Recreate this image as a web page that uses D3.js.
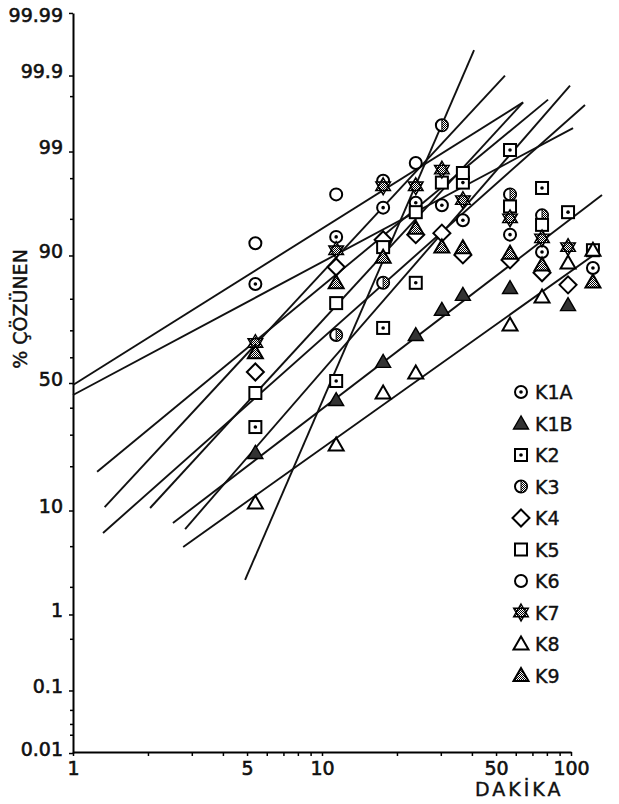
<!DOCTYPE html>
<html>
<head>
<meta charset="utf-8">
<script src="https://cdn.jsdelivr.net/npm/d3@7"></script>
<style>
  body { margin: 0; background: #fff; }
  text { font-family: "DejaVu Sans", sans-serif; fill: #111; }
</style>
</head>
<body>
<script>
// minutes at which the samples were read (one column each)
var dakika = [5.4, 11.4, 17.6, 23.8, 30.3, 36.8, 56.9, 76.5, 97.3, 122.5];

// % dissolved per product, null = no point drawn
var K1A = [84.0, 92.9, 96.1, 96.5, 96.3, 94.9, 93.2, 90.6, null, 87.6];
var K1B = [24.1, 43.2, 58.4, 68.5, 76.9, 81.2, 83.0, null, 78.3, null];
var K2  = [32.9, 50.8, 71.0, 84.3, null, 97.8, 99.04, 97.5, 95.7, 90.9];
var K3  = [null, 68.5, 84.3, null, 99.52, null, 97.1, 95.4, null, null];
var K4  = [54.4, 87.8, 92.5, 93.2, 93.4, 90.1, 89.2, 86.6, 83.8, null];
var K5  = [46.0, 78.9, 91.4, 95.7, 97.8, 98.26, 96.2, 94.4, null, null];
var K6  = [92.0, 97.1, 97.9, 98.65, null, null, null, null, null, null];
var K7  = [65.6, 90.9, 97.6, 97.6, 98.4, 96.7, 95.1, 92.7, 91.4, null];
var K8  = [11.4, 26.7, 46.0, 54.0, null, null, 72.0, 80.6, 88.6, 90.9];
var K9  = [61.9, 84.3, 89.7, 94.0, 91.4, 91.3, 90.4, 88.2, null, 84.5];

// fitted straight lines, [minute, %] at both ends
var fitK1A = [[1.0, 45.2], [101.9, 99.48]];
var fitK1B = [[2.52, 7.97], [133.2, 97.06]];
var fitK2  = [[2.82, 7.11], [99.1, 99.86]];
var fitK3  = [[4.91, 2.39], [40.8, 99.959]];
var fitK4  = [[1.34, 10.6], [54.3, 99.90]];
var fitK5  = [[2.04, 10.45], [64.2, 99.76]];
var fitK6  = [[1.0, 49.2], [64.2, 99.76]];
var fitK7  = [[1.25, 18.6], [80.9, 99.78]];
var fitK8  = [[2.77, 4.97], [128.3, 90.6]];
var fitK9  = [[1.32, 6.58], [113.8, 99.74]];

var seriesNames = ["K1A", "K1B", "K2", "K3", "K4", "K5", "K6", "K7", "K8", "K9"];
var seriesValues = [K1A, K1B, K2, K3, K4, K5, K6, K7, K8, K9];
var seriesFits = [fitK1A, fitK1B, fitK2, fitK3, fitK4, fitK5, fitK6, fitK7, fitK8, fitK9];

var yTickLabels = ["0.01", "0.1", "1", "10", "50", "90", "99", "99.9", "99.99"];
var yMinorTicks = [0.02, 0.03, 0.05, 0.5, 2, 5, 20, 30, 40, 60, 70, 80, 95, 98, 99.8];
var xTickValues = [1, 2, 3, 4, 5, 6, 7, 8, 9, 10, 20, 30, 40, 50, 60, 70, 80, 90, 100];
var xTickLabels = [1, 5, 10, 50, 100];

// inverse normal cdf (Acklam)
function probit (p) {
  var a = [-3.969683028665376e+01, 2.209460984245205e+02, -2.759285104469687e+02, 1.383577518672690e+02, -3.066479806614716e+01, 2.506628277459239e+00];
  var b = [-5.447609879822406e+01, 1.615858368580409e+02, -1.556989798598866e+02, 6.680131188771972e+01, -1.328068155288572e+01];
  var c = [-7.784894002430293e-03, -3.223964580411365e-01, -2.400758277161838e+00, -2.549671875485481e+00, 4.374664141464968e+00, 2.938163982698783e+00];
  var d = [7.784695709041462e-03, 3.224671290700398e-01, 2.445134137142996e+00, 3.754408661907416e+00];
  var q, r;
  if (p < 0.02425) {
    q = Math.sqrt(-2 * Math.log(p));
    return (((((c[0]*q + c[1])*q + c[2])*q + c[3])*q + c[4])*q + c[5]) / ((((d[0]*q + d[1])*q + d[2])*q + d[3])*q + 1);
  }
  if (p <= 1 - 0.02425) {
    q = p - 0.5; r = q * q;
    return (((((a[0]*r + a[1])*r + a[2])*r + a[3])*r + a[4])*r + a[5])*q / (((((b[0]*r + b[1])*r + b[2])*r + b[3])*r + b[4])*r + 1);
  }
  q = Math.sqrt(-2 * Math.log(1 - p));
  return -(((((c[0]*q + c[1])*q + c[2])*q + c[3])*q + c[4])*q + c[5]) / ((((d[0]*q + d[1])*q + d[2])*q + d[3])*q + 1);
}

var width = 619, height = 804;
var axisX = 73, axisY = 752;
var zMax = probit(0.9999);
var midY = 383, perZ = 99.5;

var x = d3.scaleLog().domain([1, 100]).range([axisX, 571]);
var yZ = d3.scaleLinear().domain([-zMax, zMax]).range([midY + perZ * zMax, midY - perZ * zMax]);
function y (p) { return yZ(probit(p / 100)); }

var svg = d3.select("body").append("svg")
  .attr("width", width)
  .attr("height", height);

var defs = svg.append("defs");
var dots = defs.append("pattern")
  .attr("id", "dots")
  .attr("width", 2).attr("height", 2)
  .attr("patternUnits", "userSpaceOnUse");
dots.append("rect").attr("width", 2).attr("height", 2).attr("fill", "#fff");
dots.append("rect").attr("width", 1).attr("height", 1).attr("fill", "#000");
dots.append("rect").attr("x", 1).attr("y", 1).attr("width", 1).attr("height", 1).attr("fill", "#000");

// y axis (probability scale)
var yAxis = svg.append("g")
  .attr("transform", "translate(" + axisX + ",0)")
  .call(d3.axisLeft(yZ)
    .tickValues(yTickLabels.map(function (s) { return probit(+s / 100); }))
    .tickFormat(function (d, i) { return yTickLabels[i]; })
    .tickSize(4)
    .tickSizeOuter(0)
    .tickPadding(6));
yAxis.selectAll("text")
  .attr("dy", function (d, i) { return i == yTickLabels.length - 1 ? "0.45em" : "0.12em"; })
  .style("font-size", "19px")
  .style("stroke", "#111")
  .style("stroke-width", "0.6px");
yAxis.select(".domain").attr("stroke-width", 2);
yAxis.selectAll(".tick line").attr("stroke-width", 1.5);

svg.append("g").selectAll("line")
  .data(yMinorTicks)
  .enter().append("line")
  .attr("x1", axisX - 3).attr("x2", axisX)
  .attr("y1", function (d) { return y(d); })
  .attr("y2", function (d) { return y(d); })
  .attr("stroke", "#000").attr("stroke-width", 1.5);

// x axis (log scale)
var xAxis = svg.append("g")
  .attr("transform", "translate(0," + axisY + ")")
  .call(d3.axisBottom(x)
    .tickValues(xTickValues)
    .tickFormat(function (d) { return xTickLabels.indexOf(d) >= 0 ? d : ""; })
    .tickSize(4)
    .tickSizeOuter(0)
    .tickPadding(6));
xAxis.selectAll("text")
  .style("font-size", "19px")
  .style("stroke", "#111")
  .style("stroke-width", "0.6px");
xAxis.select(".domain").attr("stroke-width", 2);
xAxis.selectAll(".tick line").attr("stroke-width", 1.5);

// axis titles
svg.append("text")
  .attr("transform", "translate(27,309) rotate(-90)")
  .attr("text-anchor", "middle")
  .style("font-size", "19px")
  .style("stroke", "#111")
  .style("stroke-width", "0.4px")
  .text("% ÇÖZÜNEN");

svg.append("text")
  .attr("x", 475).attr("y", 796)
  .style("font-size", "19px")
  .style("letter-spacing", "3px")
  .style("stroke", "#111")
  .style("stroke-width", "0.4px")
  .text("DAKİKA");

// fitted lines
var line = d3.line()
  .x(function (d) { return x(d[0]); })
  .y(function (d) { return y(d[1]); });

svg.append("g").selectAll("path")
  .data(seriesFits)
  .enter().append("path")
  .attr("d", line)
  .attr("fill", "none")
  .attr("stroke", "#111")
  .attr("stroke-width", 1.9);

// markers
function triangle (cx, cy) {
  return "M" + cx + "," + (cy - 7.5) + "L" + (cx - 7.5) + "," + (cy + 5.5) + "L" + (cx + 7.5) + "," + (cy + 5.5) + "Z";
}
function hexagram (cx, cy, r) {
  var p = "";
  [[-90, 30, 150], [90, 210, 330]].forEach(function (tri) {
    tri.forEach(function (a, i) {
      var t = a * Math.PI / 180;
      p += (i ? "L" : "M") + (cx + r * Math.cos(t)) + "," + (cy + r * Math.sin(t));
    });
    p += "Z";
  });
  return p;
}
function drawMarker (g, name, cx, cy) {
  var sw = 2;
  if (name == "K1A" || name == "K6" || name == "K3") {
    g.append("circle").attr("cx", cx).attr("cy", cy).attr("r", 6)
      .attr("fill", "#fff").attr("stroke", "#000").attr("stroke-width", sw);
    if (name == "K1A") {
      g.append("circle").attr("cx", cx).attr("cy", cy).attr("r", 1.8).attr("fill", "#000");
    }
    if (name == "K3") {
      g.append("path")
        .attr("d", "M" + cx + "," + (cy - 6) + "A6,6 0 0 1 " + cx + "," + (cy + 6) + "Z")
        .attr("fill", "url(#dots)").attr("stroke", "#000").attr("stroke-width", 1);
    }
  } else if (name == "K2" || name == "K5") {
    g.append("rect").attr("x", cx - 6).attr("y", cy - 6).attr("width", 12).attr("height", 12)
      .attr("fill", "#fff").attr("stroke", "#000").attr("stroke-width", sw);
    if (name == "K2") {
      g.append("circle").attr("cx", cx).attr("cy", cy).attr("r", 1.8).attr("fill", "#000");
    }
  } else if (name == "K4") {
    g.append("path")
      .attr("d", "M" + cx + "," + (cy - 8.5) + "L" + (cx + 8.5) + "," + cy + "L" + cx + "," + (cy + 8.5) + "L" + (cx - 8.5) + "," + cy + "Z")
      .attr("fill", "#fff").attr("stroke", "#000").attr("stroke-width", sw);
  } else if (name == "K7") {
    g.append("path").attr("d", hexagram(cx, cy, 8.5))
      .attr("fill", "url(#dots)").attr("stroke", "#000").attr("stroke-width", 1.4);
  } else if (name == "K1B") {
    g.append("path").attr("d", triangle(cx, cy))
      .attr("fill", "#333").attr("stroke", "#000").attr("stroke-width", 1.4);
  } else if (name == "K8") {
    g.append("path").attr("d", triangle(cx, cy))
      .attr("fill", "#fff").attr("stroke", "#000").attr("stroke-width", sw);
  } else if (name == "K9") {
    g.append("path").attr("d", triangle(cx, cy))
      .attr("fill", "url(#dots)").attr("stroke", "#000").attr("stroke-width", sw);
  }
}

var marks = svg.append("g");
seriesNames.forEach(function (name, s) {
  seriesValues[s].forEach(function (v, i) {
    if (v == null) return;
    drawMarker(marks, name, x(dakika[i]), y(v));
  });
});

// legend
var legend = svg.append("g");
seriesNames.forEach(function (name, i) {
  var ly = 392 + i * 31.5;
  drawMarker(legend, name, 521, ly);
  legend.append("text")
    .attr("x", 535).attr("y", ly + 7)
    .style("font-size", "19px")
    .style("stroke", "#111")
    .style("stroke-width", "0.4px")
    .text(name);
});
</script>
</body>
</html>
